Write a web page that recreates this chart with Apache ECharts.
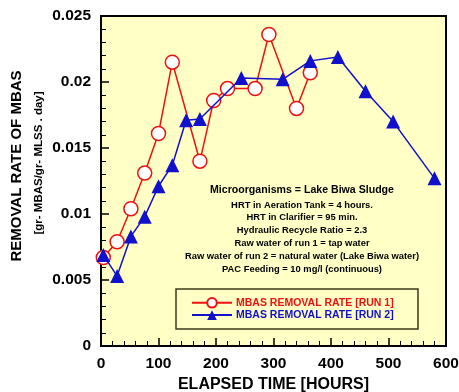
<!DOCTYPE html>
<html>
<head>
<meta charset="utf-8">
<script src="https://cdn.jsdelivr.net/npm/echarts@6/dist/echarts.min.js"></script>
<style>
  html, body { margin: 0; padding: 0; background: #ffffff; }
  #chart { width: 459px; height: 392px; }
</style>
</head>
<body>
<div id="chart"></div>
<script>
// Elapsed time [hours] and MBAS removal rate [gr-MBAS/gr-MLSS.day]
const run1Hours = [4, 28, 52, 76, 100, 124, 172, 196, 220, 268, 292, 340, 364];
const run1Rate  = [0.0067, 0.0079, 0.0104, 0.0131, 0.0161, 0.0215, 0.0140, 0.0186, 0.0195, 0.0195, 0.0236, 0.0180, 0.0207];

const run2Hours = [4, 28, 52, 76, 100, 124, 148, 172, 244, 316, 364, 412, 460, 508, 580];
const run2Rate  = [0.0069, 0.0053, 0.0083, 0.0098, 0.0121, 0.0137, 0.0171, 0.0172, 0.0203, 0.0202, 0.0216, 0.0219, 0.0193, 0.0170, 0.0127];

const run1Name = 'MBAS REMOVAL RATE [RUN 1]';
const run2Name = 'MBAS REMOVAL RATE [RUN 2]';

const conditions = [
  'HRT in Aeration Tank = 4 hours.',
  'HRT in Clarifier = 95 min.',
  'Hydraulic Recycle Ratio = 2.3',
  'Raw water of run 1 = tap water',
  'Raw water of run 2 = natural water (Lake Biwa water)',
  'PAC Feeding = 10 mg/l (continuous)'
];

const FONT = '"Liberation Sans", Arial, sans-serif';

const pair = (xs, ys) => xs.map((x, i) => [x, ys[i]]);

const chart = echarts.init(document.getElementById('chart'), null, { renderer: 'canvas' });

const graphics = [
  // rotated y-axis titles
  {
    type: 'text', x: 17, y: 166, rotation: Math.PI / 2,
    style: { text: 'REMOVAL RATE OF MBAS', font: 'bold 15px ' + FONT, fill: '#000',
             align: 'center', verticalAlign: 'middle' }
  },
  {
    type: 'text', x: 39, y: 163, rotation: Math.PI / 2,
    style: { text: '[gr- MBAS/gr- MLSS . day]', font: 'bold 11.5px ' + FONT, fill: '#000',
             align: 'center', verticalAlign: 'middle' }
  },
  {
    type: 'text', x: 302, y: 190,
    style: { text: 'Microorganisms = Lake Biwa Sludge', font: 'bold 10.6px ' + FONT, fill: '#000',
             align: 'center', verticalAlign: 'middle' }
  },
  // legend frame
  {
    type: 'rect', shape: { x: 176, y: 289, width: 242, height: 40 },
    style: { fill: 'none', stroke: '#3a3a1a', lineWidth: 1.5 }, z: 5
  }
];
conditions.forEach((t, i) => {
  graphics.push({
    type: 'text', x: 302, y: 205 + i * 12.9,
    style: { text: t, font: 'bold 9.4px ' + FONT, fill: '#000', align: 'center', verticalAlign: 'middle' }
  });
});

chart.setOption({
  animation: false,
  backgroundColor: '#ffffff',
  grid: {
    left: 101, top: 16, width: 345, height: 330,
    outerBoundsMode: 'none',
    show: true, backgroundColor: '#FFFFC6', borderColor: '#000', borderWidth: 2
  },
  legend: {
    orient: 'vertical', left: 186, top: 292,
    itemWidth: 40, itemHeight: 12, itemGap: 1,
    selectedMode: false,
    textStyle: { fontFamily: FONT, fontWeight: 'bold', fontSize: 10.5, padding: [0, 0, 0, -1] },
    data: [
      { name: run1Name, textStyle: { color: '#ee1111' } },
      { name: run2Name, textStyle: { color: '#1111cc' } }
    ]
  },
  xAxis: {
    type: 'value', min: 0, max: 600, interval: 100,
    name: 'ELAPSED TIME [HOURS]', nameLocation: 'middle', nameGap: 29,
    nameTextStyle: { fontFamily: FONT, fontWeight: 'bold', fontSize: 16, color: '#000' },
    axisLine: { show: false },
    axisTick: { show: true, inside: true, length: 8, lineStyle: { color: '#000', width: 1.5 } },
    minorTick: { show: true, splitNumber: 5, length: 5, lineStyle: { color: '#000', width: 1 } },
    splitLine: { show: false },
    axisLabel: { fontFamily: FONT, fontWeight: 'bold', fontSize: 15.5, color: '#000', margin: 10 }
  },
  yAxis: {
    type: 'value', min: 0, max: 0.025, interval: 0.005,
    axisLine: { show: false },
    axisTick: { show: true, inside: true, length: 8, lineStyle: { color: '#000', width: 1.5 } },
    minorTick: { show: true, splitNumber: 5, length: 5, lineStyle: { color: '#000', width: 1 } },
    splitLine: { show: false },
    axisLabel: { fontFamily: FONT, fontWeight: 'bold', fontSize: 15.5, color: '#000', margin: 10 }
  },
  graphic: graphics,
  series: [
    {
      name: run1Name, type: 'line', data: pair(run1Hours, run1Rate),
      symbol: 'circle', symbolSize: 14,
      lineStyle: { color: '#ee1111', width: 1.5 },
      itemStyle: { color: '#ffffff', borderColor: '#ee1111', borderWidth: 1.5 },
      z: 3
    },
    {
      name: run2Name, type: 'line', data: pair(run2Hours, run2Rate),
      symbol: 'triangle', symbolSize: 14,
      lineStyle: { color: '#1111cc', width: 1.5 },
      itemStyle: { color: '#1111cc', borderColor: '#1111cc', borderWidth: 0 },
      z: 4
    }
  ]
});
</script>
</body>
</html>
